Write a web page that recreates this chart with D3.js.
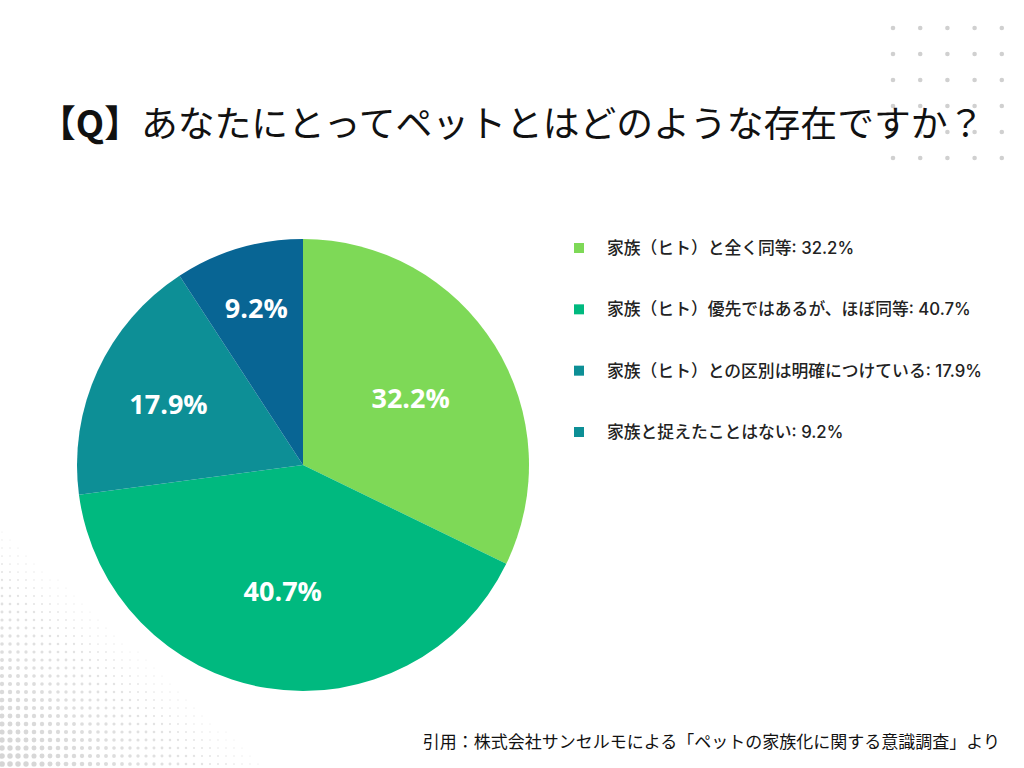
<!DOCTYPE html>
<html><head><meta charset="utf-8">
<script src="https://cdn.jsdelivr.net/npm/d3@7"></script>
<style>
html,body{margin:0;padding:0;background:#fff;}
svg{display:block;}
</style></head>
<body>
<svg id="chart" width="1024" height="768"></svg>
<script>
const categories = [
  "家族（ヒト）と全く同等",
  "家族（ヒト）優先ではあるが、ほぼ同等",
  "家族（ヒト）との区別は明確につけている",
  "家族と捉えたことはない"
];
const values = [32.2, 40.7, 17.9, 9.2];
const sliceColors = ["#7ed957", "#00b97f", "#0d8f96", "#086594"];
const legendColors = ["#7ed957", "#00b97f", "#0d8f96", "#0d8f96"];
const titleText = "あなたにとってペットとはどのような存在ですか？";
const sourceText = "引用：株式会社サンセルモによる「ペットの家族化に関する意識調査」より";

const svg = d3.select("#chart");
const JP = "'Noto Sans CJK JP','Noto Sans',sans-serif";

// decorative dot grid top-right
const dg = svg.append("g");
for (let i = 0; i < 5; i++) for (let j = 0; j < 6; j++) {
  dg.append("circle").attr("cx", 893 + i * 27.2).attr("cy", 28 + j * 26).attr("r", 2.3).attr("fill", "#d0d0d0");
}
// halftone bottom-left
const hg = svg.append("g");
for (let x = 2; x < 320; x += 8) for (let y = 764; y > 480; y -= 8) {
  const d = x / 295 + (768 - y) / 266;
  if (d >= 1) continue;
  const r = 2.9 * Math.pow(1 - d, 0.75);
  if (r < 0.5) continue;
  hg.append("circle").attr("cx", x).attr("cy", y).attr("r", r).attr("fill", "#d4d4d4").attr("opacity", 0.5 + 0.5 * (1 - d));
}

// title
const t = svg.append("text").attr("x", 39).attr("y", 137).attr("font-family", JP).attr("font-size", 36.8).attr("fill", "#111");
t.append("tspan").attr("font-weight", 700).text("【Q】");
t.append("tspan").attr("font-weight", 400).text(titleText);

// pie
const cx = 303, cy = 465, R = 226;
const pie = d3.pie().sort(null).value(d => d)(values);
const arc = d3.arc().innerRadius(0).outerRadius(R);
const labelR = d3.scaleLinear().domain([9.2, 17.9, 32.2]).range([164, 148, 127]).clamp(true);
const pg = svg.append("g").attr("transform", `translate(${cx},${cy})`);
pg.selectAll("path").data(pie).join("path").attr("d", arc).attr("fill", (d, i) => sliceColors[i]);
pg.selectAll("text").data(pie).join("text")
  .attr("transform", d => {
    const a = (d.startAngle + d.endAngle) / 2, r = labelR(d.data);
    return `translate(${r * Math.sin(a)},${-r * Math.cos(a)})`;
  })
  .attr("text-anchor", "middle").attr("dominant-baseline", "central")
  .attr("font-family", "'Open Sans','Noto Sans',sans-serif").attr("font-weight", 700).attr("font-size", 27)
  .attr("fill", "#fff").text(d => d.data.toFixed(1) + "%");

// legend
const lg = svg.append("g");
const ly = d3.scalePoint().domain(d3.range(categories.length)).range([248, 432]);
categories.forEach((c, i) => {
  lg.append("rect").attr("x", 574).attr("y", ly(i) - 5).attr("width", 10).attr("height", 10).attr("fill", legendColors[i]);
  lg.append("text").attr("x", 607).attr("y", ly(i)).attr("dominant-baseline", "central")
    .attr("font-family", "Inter,'Noto Sans CJK JP',sans-serif").attr("font-size", 16.8).attr("font-weight", 500).attr("fill", "#222")
    .text(c + ": " + values[i].toFixed(1) + "%");
});

// source
svg.append("text").attr("x", 1000).attr("y", 748).attr("text-anchor", "end")
  .attr("font-family", JP).attr("font-size", 17).attr("fill", "#111").text(sourceText);
</script>
</body></html>
